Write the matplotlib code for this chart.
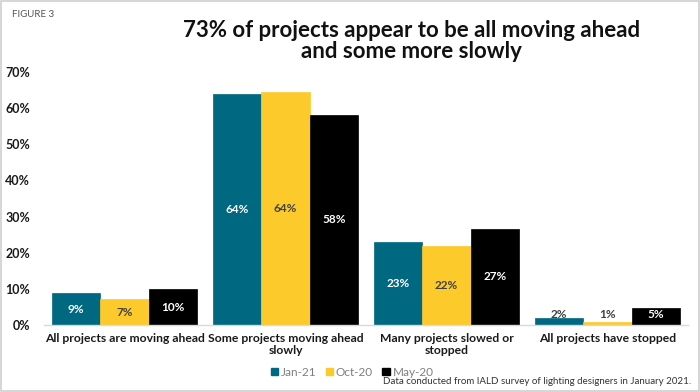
import matplotlib
matplotlib.use("Agg")
import matplotlib.pyplot as plt
from matplotlib.patches import Patch, Rectangle
import numpy as np

categories = ["All projects are moving ahead", "Some projects moving ahead\nslowly",
              "Many projects slowed or\nstopped", "All projects have stopped"]
series_names = ["Jan-21", "Oct-20", "May-20"]
jan21 = [8.8, 64.0, 23.0, 1.8]
oct20 = [7.1, 64.4, 21.9, 0.7]
may20 = [9.9, 58.2, 26.7, 4.8]
yticks = [0, 10, 20, 30, 40, 50, 60, 70]

colors = ["#006880", "#FDCA2C", "#000000"]
label_colors = ["white", "#404040", "white"]

plt.rcParams['font.family'] = ['Lato', 'DejaVu Sans']

fig = plt.figure(figsize=(7.0, 3.92), dpi=100)
ax = fig.add_axes([0.063, 0.171, 0.92, 0.645])

x = np.arange(len(categories))
w = 0.30
for i, (vals, c, lc) in enumerate(zip([jan21, oct20, may20], colors, label_colors)):
    xs = x + (i - 1) * w
    ax.bar(xs, vals, width=w, color=c, edgecolor=c, linewidth=0.5)
    for xi, v in zip(xs, vals):
        pos = max(v / 2, 3.0)
        tc = lc if v >= 4 else "#404040"
        ax.text(xi, pos, f"{round(v):.0f}%", ha="center", va="center",
                fontsize=8.5, fontweight="bold", color=tc)

ax.set_xlim(-0.5, 3.5)
ax.set_ylim(0, 70)
ax.set_yticks(yticks)
ax.set_yticklabels([f"{t}%" for t in yticks], fontsize=9, fontweight="bold", color="#1a1a1a")
ax.set_xticks(x)
ax.set_xticklabels(categories, fontsize=8.7, fontweight="bold", color="#1a1a1a", linespacing=1.05)
ax.tick_params(axis="y", length=0, pad=10)
ax.tick_params(axis="x", length=0, pad=6)
for s in ["top", "right", "left"]:
    ax.spines[s].set_visible(False)
ax.spines["bottom"].set_color("#d9d9d9")
ax.spines["bottom"].set_linewidth(1.0)

fig.text(0.588, 0.895, "73% of projects appear to be all moving ahead\nand some more slowly",
         ha="center", va="center", fontsize=16, fontweight="bold", color="#111111",
         linespacing=1.0)
fig.text(0.017, 0.962, "FIGURE 3", ha="left", va="center", fontsize=7, color="#555555")

handles = [Patch(facecolor=c, edgecolor=c) for c in colors]
leg = fig.legend(handles, series_names, loc="center", bbox_to_anchor=(0.503, 0.051),
                 ncol=3, frameon=False, fontsize=8.5, handlelength=0.6, handleheight=0.6,
                 handletextpad=0.25, columnspacing=0.8, borderpad=0)
for t in leg.get_texts():
    t.set_color("#7f7f7f")

fig.text(0.988, 0.028, "Data conducted from IALD survey of lighting designers in January 2021.",
         ha="right", va="center", fontsize=7, color="#333333")

fig.patches.append(Rectangle((0.001, 0.002), 0.997, 0.995, transform=fig.transFigure,
                             fill=False, edgecolor="#d0d0d0", linewidth=1.2))

fig.savefig("out.png", dpi=100)
